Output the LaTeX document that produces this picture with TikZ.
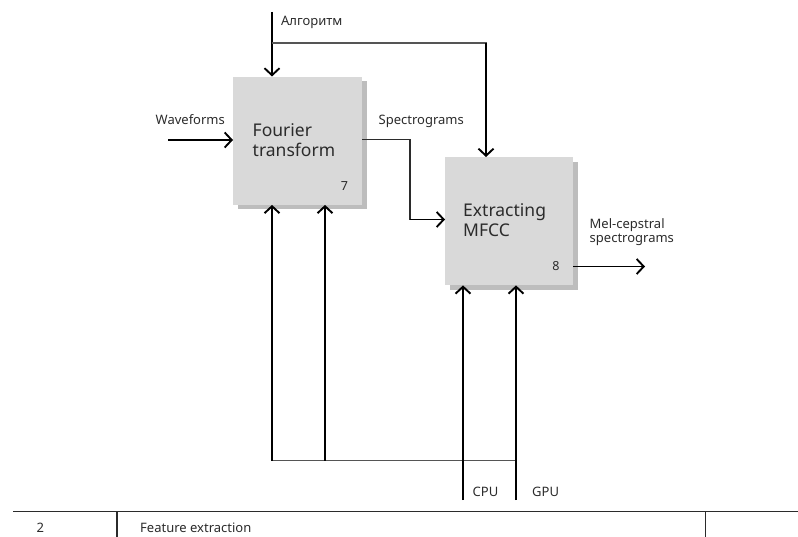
\documentclass[tikz,border=0pt]{standalone}
\usepackage{fontspec}
\setmainfont{Noto Sans}
\usetikzlibrary{arrows.meta,shadows}

\definecolor{boxfill}{HTML}{D9D9D9}
\definecolor{boxshade}{HTML}{BDBDBD}
\definecolor{ink}{HTML}{2B2B2B}
\definecolor{wire}{HTML}{555555}

\tikzset{
  funcbox/.style={draw=none, fill=boxfill, rectangle, inner sep=0pt,
    general shadow={shadow xshift=4.5pt, shadow yshift=-4.5pt, fill=boxshade}},
  lbl/.style={font=\fontsize{13}{13.5}\selectfont, text=ink, inner sep=0pt, anchor=base west},
  boxtxt/.style={font=\fontsize{17.5}{20}\selectfont, text=ink, inner sep=0pt, anchor=base west},
  numtxt/.style={font=\fontsize{12.5}{13}\selectfont, text=ink, inner sep=0pt},
  flow/.style={draw=black, line width=1.9pt, -{Straight Barb[length=7pt,width=15pt,line width=1.9pt]}},
  bus/.style={draw=wire, line width=1.5pt},
  thin/.style={draw=ink, line width=1.3pt},
  rule/.style={draw=ink, line width=1.2pt}
}

\begin{document}
\begin{tikzpicture}[x=1pt, y=-1pt]
  \useasboundingbox (0,0) rectangle (798,537);

  % activity boxes
  \node[funcbox, minimum width=129pt, minimum height=128pt, anchor=north west] (ft) at (233,76.5) {};
  \node[funcbox, minimum width=128pt, minimum height=128pt, anchor=north west] (mf) at (445,157) {};

  \node[boxtxt] (ftname1) at (252.5,137) {Fourier};
  \node[boxtxt] (ftname2) at (252.5,157) {transform};
  \node[boxtxt] (mfname1) at (463,217) {Extracting};
  \node[boxtxt] (mfname2) at (463,237) {MFCC};
  \node[numtxt] (ftnum) at (344.5,186) {7};
  \node[numtxt] (mfnum) at (556,266.5) {8};

  % free ends of the connectors
  \coordinate (algo) at (272,12);
  \coordinate (split) at (272,43);
  \coordinate (wavein) at (168,140);
  \coordinate (melout) at (645,266.5);
  \coordinate (cpu) at (463,500);
  \coordinate (gpu) at (516,500);
  \coordinate (busl) at (272,460.5);
  \coordinate (busm) at (325,460.5);

  % control
  \draw[flow] (algo) -- (ft.north -| algo);
  \draw[bus] (split) -- (486,43) -- (486,60);
  \draw[flow] (486,43) -- (mf.north -| 486,0);
  \node[lbl] (algolbl) at (281,26) {Алгоритм};

  % input
  \draw[flow] (wavein) -- (ft.west |- wavein);
  \node[lbl] (wavelbl) at (155.5,124.5) {Waveforms};

  % spectrograms between the boxes
  \draw[thin] (ft.east |- 0,139.5) -- (410,139.5) -- (410,220.5);
  \draw[flow, line width=1.3pt] (410,219.5) -- (mf.west |- 0,219.5);
  \node[lbl] (speclbl) at (378.5,125) {Spectrograms};

  % output
  \draw[flow] (mf.east |- melout) -- (melout);
  \node[lbl] (mellbl1) at (589.5,228.5) {Mel-cepstral};
  \node[lbl] (mellbl2) at (589.5,242.5) {spectrograms};

  % mechanisms
  \draw[bus] (busl) -- (gpu |- busl);
  \draw[flow] (busl) -- (ft.south -| busl);
  \draw[flow] (busm) -- (ft.south -| busm);
  \draw[flow] (cpu) -- (mf.south -| cpu);
  \draw[flow] (gpu) -- (mf.south -| gpu);
  \node[lbl] (cpulbl) at (472.5,496.5) {CPU};
  \node[lbl] (gpulbl) at (532,496.5) {GPU};

  % title strip
  \draw[rule] (13,511.5) -- (798,511.5);
  \draw[rule] (117,511.5) -- (117,537);
  \draw[rule] (705.5,511.5) -- (705.5,537);
  \node[lbl] (nodeno) at (36.5,532) {2};
  \node[lbl] (title) at (140,532) {Feature extraction};
\end{tikzpicture}
\end{document}
